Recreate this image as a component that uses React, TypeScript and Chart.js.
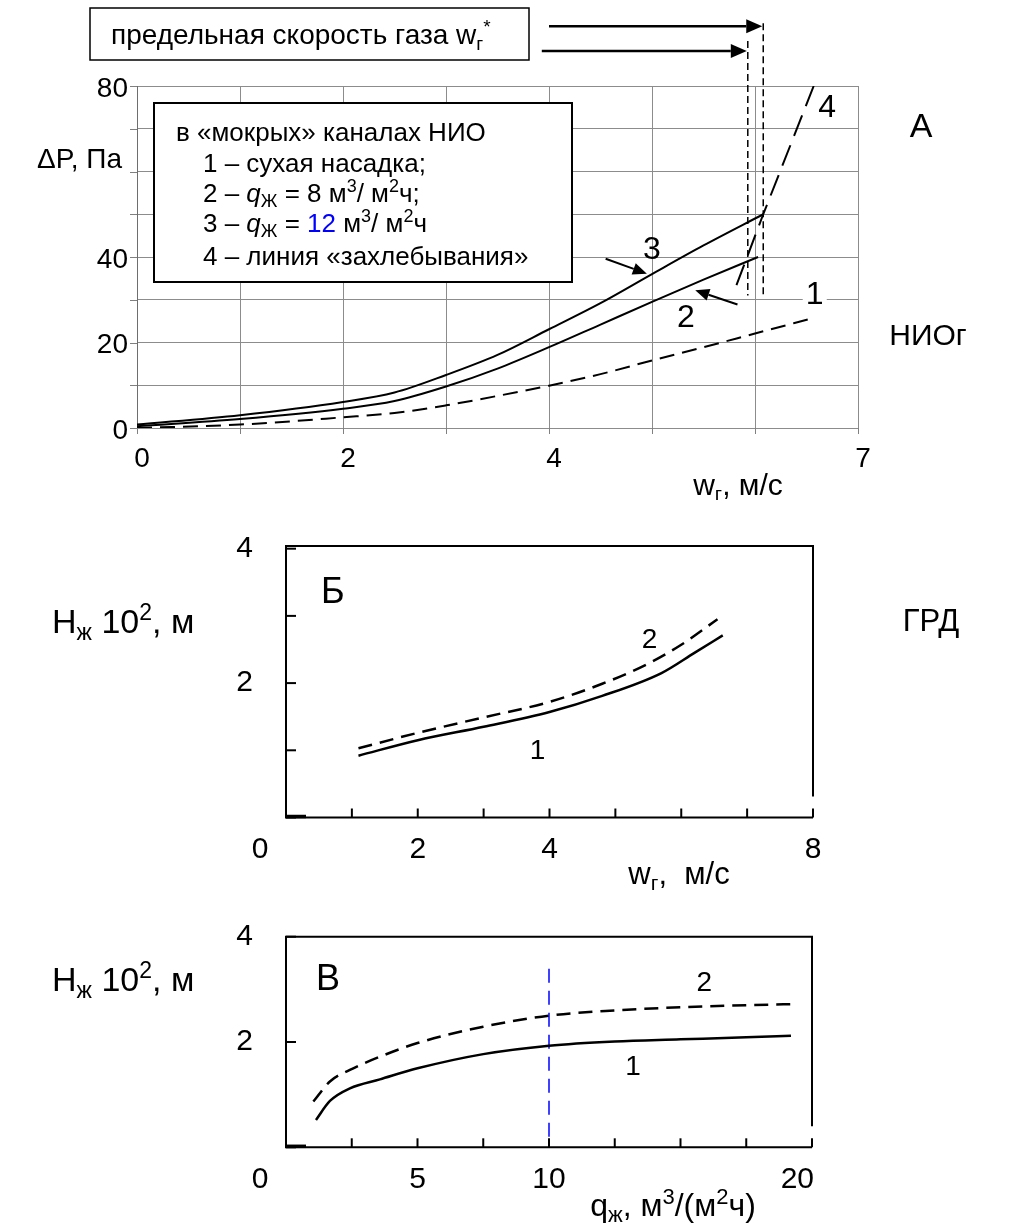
import React, { useEffect, useRef } from "react";
import { Chart, registerables } from "chart.js";

Chart.register(...registerables);

const FF = '"Liberation Sans", Arial, Helvetica, sans-serif';
const W = 1036;

// ===== Panel А: ΔP (Па) vs wг (м/с) =====
const aXTickValues = [0, 2, 4, 7];
const aXTickLabels = ["0", "2", "4", "7"];
const aYTickValues = [0, 20, 40, 80];
const aYTickLabels = ["0", "20", "40", "80"];
// 1 – сухая насадка (dashed)
const aDryX = [0, 1, 2, 2.5, 3, 3.5, 4, 4.5, 5, 5.5, 6, 6.58];
const aDryY = [0, 0.8, 2.5, 3.5, 5.3, 7.5, 9.9, 12.6, 15.8, 18.9, 22.1, 25.8];
// 2 – qж = 8
const aQ8X = [0, 1, 2, 2.5, 3, 3.5, 4, 4.5, 5, 5.5, 6.03];
const aQ8Y = [0.4, 2.1, 4.5, 6.3, 9.7, 13.9, 18.9, 24.2, 29.5, 34.7, 40];
// 3 – qж = 12
const aQ12X = [0, 1, 2, 2.5, 3, 3.5, 4, 4.5, 5, 5.5, 6.08];
const aQ12Y = [0.8, 3.0, 6.1, 8.3, 12.4, 17.1, 23.1, 29.2, 36.0, 42.7, 50];
// 4 – линия захлебывания
const aFloodX = [5.82, 6.08, 6.57];
const aFloodY = [33.4, 50, 80];
// предельная скорость газа (dashed verticals) and arrows
const aLimitX = [5.93, 6.08];
const aLimitTopY = [90.5, 94.7];
const aLimitBottomY = [31, 31];
const aArrowFromX = [3.93, 4.0];
const aArrowY = [88.2, 94.0];

// ===== Panel Б: Hж·10² vs wг =====
const bXTickValues = [0, 2, 4, 8];
const bXTickLabels = ["0", "2", "4", "8"];
const bYTickValues = [2, 4];
const bYTickLabels = ["2", "4"];
const bXMarks = [1, 2, 3, 4, 5, 6, 7, 8];
const bYMarks = [0, 1, 2, 3, 4];
const b1X = [1.1, 2, 3, 4, 4.8, 5.7, 6.2, 6.63];
const b1Y = [0.92, 1.15, 1.35, 1.57, 1.81, 2.15, 2.45, 2.71];
const b2X = [1.1, 2, 3, 4, 4.8, 5.5, 6.0, 6.55];
const b2Y = [1.03, 1.26, 1.49, 1.72, 1.99, 2.29, 2.57, 2.95];

// ===== Panel В: Hж·10² vs qж =====
const vXTickValues = [0, 5, 10, 20];
const vXTickLabels = ["0", "5", "10", "20"];
const vYTickValues = [2, 4];
const vYTickLabels = ["2", "4"];
const vXMarks = [2.5, 5, 7.5, 10, 12.5, 15, 17.5, 20];
const vYMarks = [0, 2, 4];
const v1X = [1.14, 1.67, 2.43, 3.57, 5.0, 7.5, 10, 12.5, 15, 17.5, 19.2];
const v1Y = [0.52, 0.88, 1.12, 1.29, 1.5, 1.77, 1.93, 2.01, 2.05, 2.09, 2.12];
const v2X = [1.04, 1.67, 2.43, 3.57, 5.0, 7.5, 10, 12.5, 15, 17.5, 19.4];
const v2Y = [0.87, 1.25, 1.47, 1.72, 1.98, 2.29, 2.5, 2.6, 2.66, 2.7, 2.72];
const vMarkerX = [10, 10];
const vMarkerY = [0.2, 3.44];

type Run = { t: string; sub?: boolean; sup?: boolean; italic?: boolean; color?: string };

function drawRich(ctx: CanvasRenderingContext2D, runs: Run[], x: number, y: number, size: number, align: "left" | "center" | "right" = "left") {
  const fontFor = (r: Run) => `${r.italic ? "italic " : ""}${r.sub || r.sup ? Math.round(size * 0.68) : size}px ${FF}`;
  let total = 0;
  for (const r of runs) {
    ctx.font = fontFor(r);
    total += ctx.measureText(r.t).width;
  }
  let cx = align === "left" ? x : align === "center" ? x - total / 2 : x - total;
  ctx.textAlign = "left";
  ctx.textBaseline = "alphabetic";
  for (const r of runs) {
    ctx.font = fontFor(r);
    ctx.fillStyle = r.color || "#000";
    const dy = r.sub ? size * 0.2 : r.sup ? -size * 0.38 : 0;
    ctx.fillText(r.t, cx, y + dy);
    cx += ctx.measureText(r.t).width;
  }
}

function txt(ctx: CanvasRenderingContext2D, s: string, x: number, y: number, size: number, align: CanvasTextAlign = "center", color = "#000") {
  ctx.font = `${size}px ${FF}`;
  ctx.textAlign = align;
  ctx.textBaseline = "middle";
  ctx.fillStyle = color;
  ctx.fillText(s, x, y);
}

function arrow(ctx: CanvasRenderingContext2D, x1: number, y1: number, x2: number, y2: number, head = 15, half = 6, width = 2) {
  const ang = Math.atan2(y2 - y1, x2 - x1);
  const bx = x2 - head * Math.cos(ang);
  const by = y2 - head * Math.sin(ang);
  ctx.setLineDash([]);
  ctx.strokeStyle = "#000";
  ctx.lineWidth = width;
  ctx.beginPath();
  ctx.moveTo(x1, y1);
  ctx.lineTo(bx, by);
  ctx.stroke();
  ctx.fillStyle = "#000";
  ctx.beginPath();
  ctx.moveTo(x2, y2);
  ctx.lineTo(bx - half * Math.sin(ang), by + half * Math.cos(ang));
  ctx.lineTo(bx + half * Math.sin(ang), by - half * Math.cos(ang));
  ctx.closePath();
  ctx.fill();
}

function line(xs: number[], ys: number[], o: { dash?: number[]; width?: number; color?: string; smooth?: boolean } = {}) {
  return {
    data: xs.map((x, i) => ({ x, y: ys[i] })),
    showLine: true,
    pointRadius: 0,
    borderColor: o.color ?? "#000",
    borderWidth: o.width ?? 2,
    borderDash: o.dash ?? [],
    borderCapStyle: "butt",
    cubicInterpolationMode: o.smooth === false ? "default" : "monotone",
    tension: 0,
    fill: false,
  };
}

function baseOptions(padding: any, xs: any, ys: any) {
  return {
    animation: false,
    responsive: false,
    devicePixelRatio: 1,
    events: [],
    layout: { padding, autoPadding: false },
    plugins: { legend: { display: false }, tooltip: { enabled: false } },
    scales: { x: xs, y: ys },
  };
}

// ---------- Panel А annotations ----------
const aCurveLabels = [
  { t: "1", x: 6.58, y: 31.0, bg: true },
  { t: "2", x: 5.33, y: 25.7, bg: true },
  { t: "3", x: 5.0, y: 41.7, bg: false },
  { t: "4", x: 6.7, y: 74.9, bg: false },
];
const aPointers = [
  { fx: 4.55, fy: 39.6, tx: 4.95, ty: 36.1 },
  { fx: 5.83, fy: 28.9, tx: 5.42, ty: 32.2 },
];

const panelAPlugin = {
  id: "panelA",
  beforeDatasetsDraw(chart: any) {
    const ctx: CanvasRenderingContext2D = chart.ctx;
    const sx = chart.scales.x, sy = chart.scales.y;
    ctx.save();
    // white backings for curve labels (break the grid)
    ctx.fillStyle = "#fff";
    for (const a of aCurveLabels) {
      if (!a.bg) continue;
      const px = sx.getPixelForValue(a.x), py = sy.getPixelForValue(a.y);
      ctx.fillRect(px - 12, py - 16, 24, 32);
    }
    // legend box
    ctx.fillRect(154, 103, 418, 179);
    ctx.lineWidth = 2;
    ctx.strokeStyle = "#000";
    ctx.strokeRect(154, 103, 418, 179);
    const fs = 26;
    drawRich(ctx, [{ t: "в «мокрых» каналах НИО" }], 176, 141, fs);
    drawRich(ctx, [{ t: "1 – сухая насадка;" }], 203, 172, fs);
    drawRich(ctx, [{ t: "2 – " }, { t: "q", italic: true }, { t: "Ж", sub: true }, { t: " = 8 м" }, { t: "3", sup: true }, { t: "/ м" }, { t: "2", sup: true }, { t: "ч;" }], 203, 202, fs);
    drawRich(ctx, [{ t: "3 – " }, { t: "q", italic: true }, { t: "Ж", sub: true }, { t: " = " }, { t: "12", color: "#0000ff" }, { t: " м" }, { t: "3", sup: true }, { t: "/ м" }, { t: "2", sup: true }, { t: "ч" }], 203, 232, fs);
    drawRich(ctx, [{ t: "4 – линия «захлебывания»" }], 203, 265, fs);
    ctx.restore();
  },
  afterDatasetsDraw(chart: any) {
    const ctx: CanvasRenderingContext2D = chart.ctx;
    const sx = chart.scales.x, sy = chart.scales.y;
    const ca = chart.chartArea;
    ctx.save();
    // tick marks
    ctx.strokeStyle = "#808080";
    ctx.lineWidth = 1;
    ctx.setLineDash([]);
    for (let v = 0; v <= 80; v += 10) {
      const py = Math.round(sy.getPixelForValue(v)) + 0.5;
      ctx.beginPath(); ctx.moveTo(ca.left - 7, py); ctx.lineTo(ca.left, py); ctx.stroke();
    }
    for (let v = 0; v <= 7; v += 1) {
      const px = Math.round(sx.getPixelForValue(v)) + 0.5;
      ctx.beginPath(); ctx.moveTo(px, ca.bottom); ctx.lineTo(px, ca.bottom + 6); ctx.stroke();
    }
    // tick labels
    aYTickValues.forEach((v, i) => txt(ctx, aYTickLabels[i], ca.left - 9, sy.getPixelForValue(v) + 3, 28, "right"));
    aXTickValues.forEach((v, i) => txt(ctx, aXTickLabels[i], sx.getPixelForValue(v) + 5, ca.bottom + 31, 28, "center"));
    // axis titles
    drawRich(ctx, [{ t: "ΔP, Па" }], 122, 168, 28, "right");
    drawRich(ctx, [{ t: "w" }, { t: "г", sub: true }, { t: ", м/с" }], 738, 495, 30, "center");
    // limit speed verticals
    ctx.strokeStyle = "#000";
    ctx.lineWidth = 1.5;
    ctx.setLineDash([7, 4]);
    aLimitX.forEach((v, i) => {
      const px = sx.getPixelForValue(v);
      ctx.beginPath();
      ctx.moveTo(px, sy.getPixelForValue(aLimitTopY[i]));
      ctx.lineTo(px, sy.getPixelForValue(aLimitBottomY[i]));
      ctx.stroke();
    });
    ctx.setLineDash([]);
    // arrows to limit lines
    aLimitX.forEach((v, i) => {
      arrow(ctx, sx.getPixelForValue(aArrowFromX[i]), sy.getPixelForValue(aArrowY[i]), sx.getPixelForValue(v) - 1, sy.getPixelForValue(aArrowY[i]), 16, 7, 2.5);
    });
    // top box
    ctx.fillStyle = "#fff";
    ctx.fillRect(90, 8, 439, 52);
    ctx.strokeStyle = "#000";
    ctx.lineWidth = 1.5;
    ctx.strokeRect(90, 8, 439, 52);
    drawRich(ctx, [{ t: "предельная скорость газа w" }, { t: "г", sub: true }, { t: "*", sup: true }], 111, 44, 28);
    // curve labels and pointers
    for (const a of aCurveLabels) txt(ctx, a.t, sx.getPixelForValue(a.x), sy.getPixelForValue(a.y), 32, "center");
    for (const p of aPointers) arrow(ctx, sx.getPixelForValue(p.fx), sy.getPixelForValue(p.fy), sx.getPixelForValue(p.tx), sy.getPixelForValue(p.ty), 14, 6, 2);
    // side captions
    txt(ctx, "А", 921, 128, 34, "center");
    txt(ctx, "НИОг", 928, 337, 30, "center");
    ctx.restore();
  },
};

function panelAConfig() {
  const grid = { color: "#8c8c8c", lineWidth: 1, drawTicks: false };
  return {
    type: "scatter",
    data: {
      datasets: [
        line(aDryX, aDryY, { dash: [15, 8], width: 2 }),
        line(aQ8X, aQ8Y, { width: 2 }),
        line(aQ12X, aQ12Y, { width: 2 }),
        line(aFloodX, aFloodY, { dash: [22, 10], width: 2, smooth: false }),
      ],
    },
    options: baseOptions(
      { left: 137, right: W - 858, top: 86, bottom: 500 - 428 },
      { type: "linear", min: 0, max: 7, ticks: { display: false, stepSize: 1 }, grid, border: { display: true, color: "#8c8c8c", width: 1 } },
      { type: "linear", min: 0, max: 80, ticks: { display: false, stepSize: 10 }, grid, border: { display: true, color: "#6e6e6e", width: 1 } }
    ),
    plugins: [panelAPlugin],
  };
}

// ---------- Panels Б and В (framed) ----------
type FrameSpec = {
  id: string;
  xMarks: number[];
  yMarks: number[];
  xTickValues: number[];
  xTickLabels: string[];
  yTickValues: number[];
  yTickLabels: string[];
  lastRight?: boolean;
  draw: (ctx: CanvasRenderingContext2D, sx: any, sy: any, ca: any) => void;
};

function framePlugin(spec: FrameSpec) {
  return {
    id: spec.id,
    afterDatasetsDraw(chart: any) {
      const ctx: CanvasRenderingContext2D = chart.ctx;
      const sx = chart.scales.x, sy = chart.scales.y;
      const ca = chart.chartArea;
      ctx.save();
      ctx.setLineDash([]);
      ctx.strokeStyle = "#000";
      ctx.lineWidth = 2;
      ctx.beginPath();
      ctx.moveTo(ca.right, ca.bottom - 21);
      ctx.lineTo(ca.right, ca.top);
      ctx.lineTo(ca.left, ca.top);
      ctx.lineTo(ca.left, ca.bottom);
      ctx.lineTo(ca.right, ca.bottom);
      ctx.stroke();
      for (const v of spec.xMarks) {
        const px = sx.getPixelForValue(v);
        ctx.beginPath(); ctx.moveTo(px, ca.bottom); ctx.lineTo(px, ca.bottom - 9); ctx.stroke();
      }
      for (const v of spec.yMarks) {
        const py = sy.getPixelForValue(v);
        ctx.beginPath(); ctx.moveTo(ca.left, py); ctx.lineTo(ca.left + 10, py); ctx.stroke();
      }
      // thicker corner stub at origin
      ctx.lineWidth = 3.5;
      ctx.beginPath(); ctx.moveTo(ca.left, ca.bottom - 1); ctx.lineTo(ca.left + 20, ca.bottom - 1); ctx.stroke();
      // labels
      spec.yTickValues.forEach((v, i) => txt(ctx, spec.yTickLabels[i], ca.left - 33, sy.getPixelForValue(v), 30, "right"));
      spec.xTickValues.forEach((v, i) => {
        const last = i === spec.xTickValues.length - 1;
        if (v === 0) txt(ctx, spec.xTickLabels[i], ca.left - 26, ca.bottom + 32, 30, "center");
        else if (last && spec.lastRight) txt(ctx, spec.xTickLabels[i], sx.getPixelForValue(v) + 2, ca.bottom + 32, 30, "right");
        else txt(ctx, spec.xTickLabels[i], sx.getPixelForValue(v), ca.bottom + 32, 30, "center");
      });
      spec.draw(ctx, sx, sy, ca);
      ctx.restore();
    },
  };
}

function panelBConfig() {
  const plugin = framePlugin({
    id: "panelB",
    xMarks: bXMarks,
    yMarks: bYMarks,
    xTickValues: bXTickValues,
    xTickLabels: bXTickLabels,
    yTickValues: bYTickValues,
    yTickLabels: bYTickLabels,
    draw: (ctx, sx, sy) => {
      drawRich(ctx, [{ t: "H" }, { t: "ж", sub: true }, { t: " 10" }, { t: "2", sup: true }, { t: ", м" }], 52, 133, 34);
      drawRich(ctx, [{ t: "w" }, { t: "г", sub: true }, { t: ",  м/с" }], 679, 384, 31, "center");
      txt(ctx, "Б", sx.getPixelForValue(0.71), sy.getPixelForValue(3.34), 36, "center");
      txt(ctx, "2", sx.getPixelForValue(5.52), sy.getPixelForValue(2.64), 28, "center");
      txt(ctx, "1", sx.getPixelForValue(3.82), sy.getPixelForValue(0.98), 28, "center");
      txt(ctx, "ГРД", 931, 122, 31, "center");
    },
  });
  return {
    type: "scatter",
    data: {
      datasets: [line(b1X, b1Y, { width: 2.5 }), line(b2X, b2Y, { width: 2.5, dash: [14, 8] })],
    },
    options: baseOptions(
      { left: 286, right: W - 813, top: 46, bottom: 390 - 317.5 },
      { type: "linear", display: false, min: 0, max: 8 },
      { type: "linear", display: false, min: 0, max: 4.04 }
    ),
    plugins: [plugin],
  };
}

function panelVConfig() {
  const plugin = framePlugin({
    id: "panelV",
    xMarks: vXMarks,
    yMarks: vYMarks,
    xTickValues: vXTickValues,
    xTickLabels: vXTickLabels,
    yTickValues: vYTickValues,
    yTickLabels: vYTickLabels,
    lastRight: true,
    draw: (ctx, sx, sy) => {
      drawRich(ctx, [{ t: "H" }, { t: "ж", sub: true }, { t: " 10" }, { t: "2", sup: true }, { t: ", м" }], 52, 101, 34);
      drawRich(ctx, [{ t: "q" }, { t: "ж", sub: true }, { t: ", м" }, { t: "3", sup: true }, { t: "/(м" }, { t: "2", sup: true }, { t: "ч)" }], 673, 326, 32, "center");
      txt(ctx, "В", sx.getPixelForValue(1.6), sy.getPixelForValue(3.18), 36, "center");
      txt(ctx, "2", sx.getPixelForValue(15.9), sy.getPixelForValue(3.12), 28, "center");
      txt(ctx, "1", sx.getPixelForValue(13.2), sy.getPixelForValue(1.52), 28, "center");
    },
  });
  return {
    type: "scatter",
    data: {
      datasets: [
        line(v1X, v1Y, { width: 2.5 }),
        line(v2X, v2Y, { width: 2.5, dash: [14, 8] }),
        line(vMarkerX, vMarkerY, { width: 1.5, dash: [14, 8], color: "#0000ff", smooth: false }),
      ],
    },
    options: baseOptions(
      { left: 286, right: W - 812, top: 46.7, bottom: 333 - 257.3 },
      { type: "linear", display: false, min: 0, max: 20 },
      { type: "linear", display: false, min: 0, max: 4 }
    ),
    plugins: [plugin],
  };
}

function ChartCanvas({ height, config }: { height: number; config: () => any }) {
  const ref = useRef<HTMLCanvasElement>(null);
  useEffect(() => {
    const chart = new Chart(ref.current as HTMLCanvasElement, config());
    return () => chart.destroy();
  }, []);
  return <canvas ref={ref} width={W} height={height} style={{ display: "block", width: W, height }} />;
}

export default function App() {
  return (
    <div style={{ position: "absolute", left: 0, top: 0, width: W, height: 1223, background: "#fff", overflow: "hidden" }}>
      <ChartCanvas height={500} config={panelAConfig} />
      <ChartCanvas height={390} config={panelBConfig} />
      <ChartCanvas height={333} config={panelVConfig} />
    </div>
  );
}
